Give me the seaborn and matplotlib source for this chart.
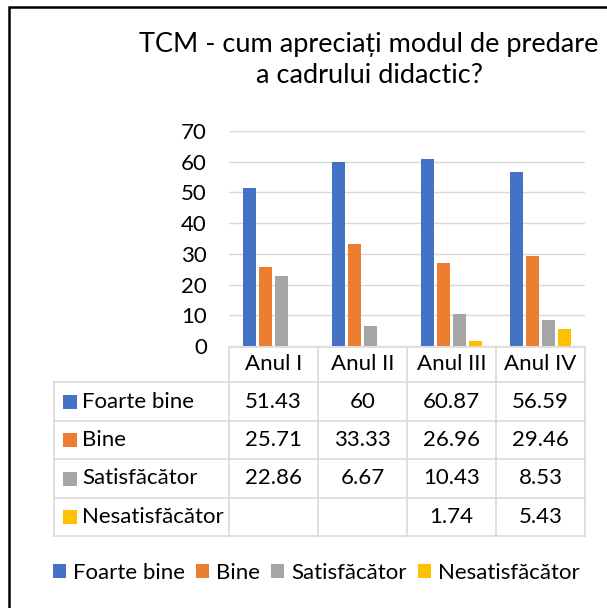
import numpy as np
import pandas as pd
import matplotlib.pyplot as plt
import seaborn as sns
from matplotlib.patches import Patch, Rectangle

# data
years = ["Anul I", "Anul II", "Anul III", "Anul IV"]
series = ["Foarte bine", "Bine", "Satisfăcător", "Nesatisfăcător"]
foarte_bine = [51.43, 60, 60.87, 56.59]
bine = [25.71, 33.33, 26.96, 29.46]
satisfacator = [22.86, 6.67, 10.43, 8.53]
nesatisfacator = [np.nan, np.nan, 1.74, 5.43]
colors = ["#4472C4", "#ED7D31", "#A5A5A5", "#FFC000"]
title = "TCM - cum apreciați modul de predare\na cadrului didactic?"

values = [foarte_bine, bine, satisfacator, nesatisfacator]
rows = []
for s, vals in zip(series, values):
    for y, v in zip(years, vals):
        rows.append({"an": y, "serie": s, "procent": v})
df = pd.DataFrame(rows)

sns.set_theme(style="white")
plt.rcParams["font.family"] = ["Lato", "DejaVu Sans"]
plt.rcParams["text.color"] = "black"

W, H = 607, 608
fig = plt.figure(figsize=(W / 100, H / 100), dpi=100)
fig.patch.set_facecolor("white")

# plot area (pixel layout)
x0, x1 = 229, 585
ytop, ybot = 131, 346
ax = fig.add_axes([x0 / W, (H - ybot) / H, (x1 - x0) / W, (ybot - ytop) / H])
sns.barplot(data=df, x="an", y="procent", hue="serie", order=years,
            hue_order=series, palette=colors, saturation=1, width=0.72,
            gap=0.19, errorbar=None, legend=False, linewidth=0, ax=ax)
ax.set_xlim(-0.5, len(years) - 0.5)
ax.set_ylim(0, 70)
ax.set_yticks(range(0, 71, 10))
ax.yaxis.grid(True, color="#d9d9d9", linewidth=1)
ax.set_axisbelow(True)
ax.tick_params(axis="x", length=0, labelbottom=False)
ax.tick_params(axis="y", length=0, pad=16, labelsize=16, labelcolor="black")
ax.set_xlabel("")
ax.set_ylabel("")
for sp in ax.spines.values():
    sp.set_visible(False)

# overlay in pixel coordinates for the data table, title and border
tab = fig.add_axes([0, 0, 1, 1])
tab.set_xlim(0, W)
tab.set_ylim(H, 0)
tab.axis("off")
tab.patch.set_alpha(0)

fs = 16
grid_c = "#d9d9d9"
col_edges = np.linspace(x0, x1, len(years) + 1)
row_edges = [347, 382, 421, 459, 498, 536]
lab_left = 54

tab.plot([x0, x1], [row_edges[0]] * 2, color=grid_c, lw=1.2)
for yy in row_edges[1:]:
    tab.plot([lab_left, x1], [yy, yy], color=grid_c, lw=1.2)
tab.plot([lab_left, lab_left], [row_edges[1], row_edges[-1]], color=grid_c, lw=1.2)
for xx in col_edges:
    tab.plot([xx, xx], [row_edges[0], row_edges[-1]], color=grid_c, lw=1.2)

centers = (col_edges[:-1] + col_edges[1:]) / 2
hy = (row_edges[0] + row_edges[1]) / 2
for cx, yname in zip(centers, years):
    tab.text(cx, hy, yname, ha="center", va="center", fontsize=fs)

for i, (s, vals, c) in enumerate(zip(series, values, colors)):
    ry = (row_edges[i + 1] + row_edges[i + 2]) / 2
    tab.add_patch(Rectangle((63, ry - 7), 14, 14, color=c, lw=0))
    tab.text(82, ry, s, ha="left", va="center", fontsize=fs)
    for cx, v in zip(centers, vals):
        if not np.isnan(v):
            tab.text(cx, ry, f"{v:g}", ha="center", va="center", fontsize=fs)

tab.text(369, 60, title, ha="center", va="center", fontsize=19.5, linespacing=1.32)

# chart border (left and top edges visible)
tab.plot([8.5, 8.5, W], [H, 6.5, 6.5], color="black", lw=1.8, solid_joinstyle="miter")

handles = [Patch(facecolor=c, edgecolor="none", label=s) for s, c in zip(series, colors)]
fig.legend(handles=handles, loc="center", bbox_to_anchor=(316 / W, 1 - 573 / H),
           ncol=4, frameon=False, fontsize=fs, handlelength=0.6, handleheight=0.6,
           handletextpad=0.3, columnspacing=0.5, borderaxespad=0)

fig.savefig("out.png", dpi=100)
